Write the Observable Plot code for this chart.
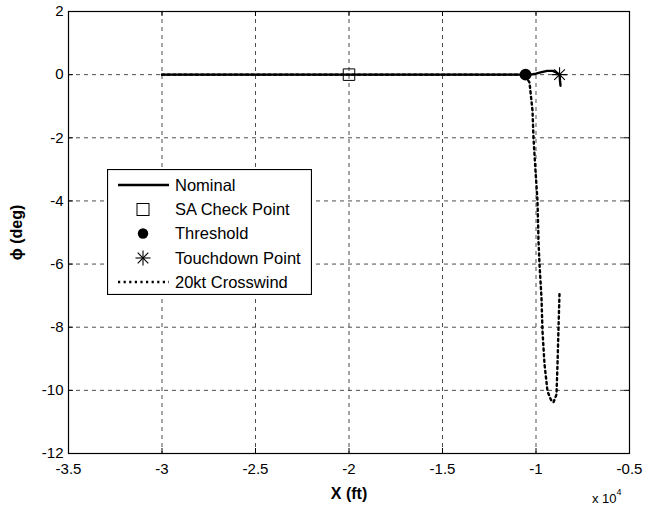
<!DOCTYPE html>
<html>
<head>
<meta charset="utf-8">
<script src="https://cdn.jsdelivr.net/npm/d3@7"></script>
<script src="https://cdn.jsdelivr.net/npm/@observablehq/plot@0.6"></script>
<style>
  body { margin: 0; background: #fff; font-family: "Liberation Sans", Arial, sans-serif; }
  #wrap { position: relative; width: 657px; height: 511px; }
  #wrap svg text { font-family: "Liberation Sans", Arial, sans-serif; }
  g[aria-label="x-axis label"] text, g[aria-label="y-axis label"] text { font-weight: bold; font-size: 16px; }
  #exp { position: absolute; left: 592px; top: 490px; font-size: 13px; color: #000; }
  #exp sup { font-size: 9px; position: relative; top: -3px; }
</style>
</head>
<body>
<div id="wrap"></div>
<script>
// ---- data ----
const xTicks = [-35000, -30000, -25000, -20000, -15000, -10000, -5000];
const yTicks = [-12, -10, -8, -6, -4, -2, 0, 2];
const xDomain = [-35000, -5000];
const yDomain = [-12, 2];

// Nominal trajectory (X ft, phi deg)
const nominalX   = [-30000, -20000, -10560, -10300, -10000, -9700, -9400, -9100, -8900, -8740, -8715, -8690];
const nominalPhi = [0, 0, 0, 0, 0.03, 0.08, 0.12, 0.12, 0.06, 0, -0.2, -0.35];

// 20kt crosswind trajectory
const crossX   = [-30000, -20000, -10600, -10348, -10187, -10134, -10027, -9920, -9866, -9813, -9706, -9652, -9545, -9385, -9200, -9064, -8904, -8850, -8797, -8743];
const crossPhi = [0, 0, 0, -0.25, -1.14, -2.0, -3.05, -4.0, -5.27, -6.0, -7.08, -8.13, -9.17, -10.03, -10.3, -10.38, -10.13, -9.17, -8.03, -6.92];

const saCheck = {x: -20000, phi: 0};
const threshold = {x: -10560, phi: 0};
const touchdown = {x: -8740, phi: 0};

const legendLabels = ["Nominal", "SA Check Point", "Threshold", "Touchdown Point", "20kt Crosswind"];

// ---- build ----
const nominal = nominalX.map((x, i) => ({x, phi: nominalPhi[i]}));
const cross = crossX.map((x, i) => ({x, phi: crossPhi[i]}));

// MATLAB-style 8-armed asterisk marker
const star8 = {
  draw(context, size) {
    const r = Math.sqrt(size / Math.PI);
    const d = r * Math.SQRT1_2;
    context.moveTo(-r, 0); context.lineTo(r, 0);
    context.moveTo(0, -r); context.lineTo(0, r);
    context.moveTo(-d, -d); context.lineTo(d, d);
    context.moveTo(-d, d); context.lineTo(d, -d);
  }
};

const chart = Plot.plot({
  width: 657,
  height: 511,
  marginLeft: 68,
  marginRight: 28,
  marginTop: 11,
  marginBottom: 58,
  style: {fontSize: "15px", fontFamily: "Liberation Sans, Arial, sans-serif", color: "black", background: "white"},
  x: {domain: xDomain, label: null},
  y: {domain: yDomain, label: null},
  marks: [
    Plot.gridX(xTicks, {stroke: "#222", strokeOpacity: 0.8, strokeDasharray: "4,4", strokeWidth: 1}),
    Plot.gridY(yTicks, {stroke: "#222", strokeOpacity: 0.8, strokeDasharray: "4,4", strokeWidth: 1}),
    // inward ticks (MATLAB style) on all four sides
    Plot.ruleX(xTicks, {x: d => d, y1: yDomain[0], y2: yDomain[0], insetTop: -5, stroke: "black"}),
    Plot.ruleX(xTicks, {x: d => d, y1: yDomain[1], y2: yDomain[1], insetBottom: -5, stroke: "black"}),
    Plot.ruleY(yTicks, {y: d => d, x1: xDomain[0], x2: xDomain[0], insetRight: -5, stroke: "black"}),
    Plot.ruleY(yTicks, {y: d => d, x1: xDomain[1], x2: xDomain[1], insetLeft: -5, stroke: "black"}),
    Plot.axisX(xTicks, {tickSize: 0, tickPadding: 10, tickFormat: d => String(d / 10000), label: "X (ft)", labelAnchor: "center", labelArrow: "none", labelOffset: 45, fontSize: 15}),
    Plot.axisY(yTicks, {tickSize: 0, tickPadding: 5, tickFormat: d => String(d), label: "\u03d5 (deg)", labelAnchor: "center", labelArrow: "none", labelOffset: 58, fontSize: 15}),
    Plot.frame({stroke: "black", strokeWidth: 1.2}),
    Plot.line(cross, {x: "x", y: "phi", stroke: "black", strokeWidth: 2.4, strokeDasharray: "2.2,3.4", curve: "linear"}),
    Plot.line(nominal, {x: "x", y: "phi", stroke: "black", strokeWidth: 2.4, curve: "linear"}),
    Plot.dot([saCheck], {x: "x", y: "phi", symbol: "square", r: 6.5, fill: "none", stroke: "black", strokeWidth: 1}),
    Plot.dot([threshold], {x: "x", y: "phi", symbol: "circle", r: 5.2, fill: "black", stroke: "black"}),
    Plot.dot([touchdown], {x: "x", y: "phi", symbol: star8, r: 7.5, fill: "none", stroke: "black", strokeWidth: 1.1})
  ]
});

const wrap = document.getElementById("wrap");
wrap.appendChild(chart);

// Legend (inside axes, MATLAB style)
const ns = "http://www.w3.org/2000/svg";
const lw = 205, lh = 126;
const leg = document.createElementNS(ns, "svg");
leg.setAttribute("width", lw);
leg.setAttribute("height", lh);
leg.style.position = "absolute";
leg.style.left = "107px";
leg.style.top = "169px";
function el(name, attrs) { const e = document.createElementNS(ns, name); for (const k in attrs) e.setAttribute(k, attrs[k]); leg.appendChild(e); return e; }
el("rect", {x: 0.5, y: 0.5, width: lw - 1, height: lh - 1, fill: "white", stroke: "black", "stroke-width": 1.2});
const rowY = [16, 40.5, 64.5, 89, 113];
const sx = 36;
legendLabels.forEach((lab, i) => {
  const y = rowY[i];
  if (i === 0) el("line", {x1: 11, x2: 62, y1: y, y2: y, stroke: "black", "stroke-width": 2.4});
  if (i === 1) el("rect", {x: sx - 6, y: y - 6, width: 12, height: 12, fill: "none", stroke: "black", "stroke-width": 1});
  if (i === 2) el("circle", {cx: sx, cy: y, r: 5.2, fill: "black"});
  if (i === 3) {
    const r = 7.5, d = r * Math.SQRT1_2;
    const segs = [[-r, 0, r, 0], [0, -r, 0, r], [-d, -d, d, d], [-d, d, d, -d]];
    segs.forEach(s => el("line", {x1: sx + s[0], y1: y + s[1], x2: sx + s[2], y2: y + s[3], stroke: "black", "stroke-width": 1.1}));
  }
  if (i === 4) el("line", {x1: 11, x2: 62, y1: y, y2: y, stroke: "black", "stroke-width": 2.4, "stroke-dasharray": "2.2,3.4"});
  const t = el("text", {x: 68, y: y + 5.5, "font-size": 16.5, "font-family": "Liberation Sans, Arial, sans-serif", fill: "black"});
  t.textContent = lab;
});
wrap.appendChild(leg);

// exponent note
const exp = document.createElement("div");
exp.id = "exp";
exp.innerHTML = "x 10<sup>4</sup>";
wrap.appendChild(exp);
</script>
</body>
</html>
